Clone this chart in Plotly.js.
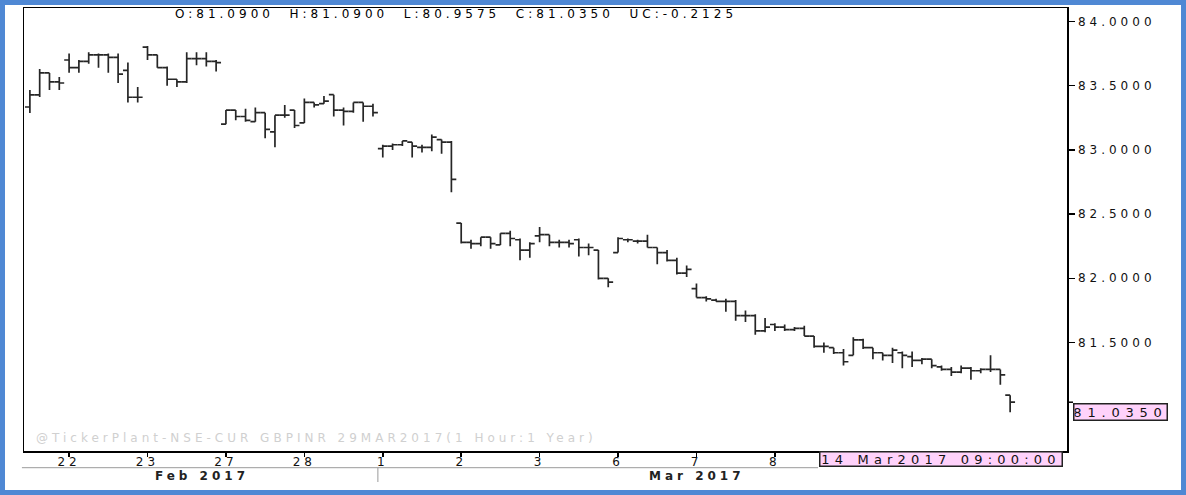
<!DOCTYPE html>
<html>
<head>
<meta charset="utf-8">
<script src="https://cdn.plot.ly/plotly-3.0.1.min.js"></script>
<style>
  html, body { margin: 0; padding: 0; background: #fff; overflow: hidden; }
  #chart { position: absolute; left: 0; top: 0; width: 1186px; height: 495px; }
  #frame { position: absolute; left: 0; top: 0; width: 1186px; height: 495px; box-sizing: border-box;
           border: 5px solid #4f88d4; pointer-events: none; }
  text { letter-spacing: 4px; }
  .annotation[data-index="4"] text { letter-spacing: 5.2px; }
  .annotation[data-index="5"] text { letter-spacing: 5.8px; }
</style>
</head>
<body>
<div id="chart"></div>
<div id="frame"></div>
<script>
// Trading sessions (hourly bars)
const sessionDays = ['2017-02-21','2017-02-22','2017-02-23','2017-02-27','2017-02-28','2017-03-01','2017-03-02',
                     '2017-03-03','2017-03-06','2017-03-07','2017-03-08','2017-03-09','2017-03-10','2017-03-14'];
const fullHours = ['09:00','10:00','11:00','12:00','13:00','14:00','15:00','16:00'];
const firstDayHours = ['13:00','14:00','15:00','16:00'];
const lastDayHours = ['09:00'];

const openP = [
  83.334, 83.428, 83.599, 83.529,
  83.70, 83.64, 83.69, 83.74, 83.74, 83.72, 83.62, 83.41,
  83.80, 83.74, 83.64, 83.55, 83.53, 83.71, 83.71, 83.69,
  83.20, 83.31, 83.26, 83.22, 83.29, 83.14, 83.27, 83.31,
  83.21, 83.37, 83.36, 83.43, 83.31, 83.30, 83.37, 83.34,
  83.01, 83.03, 83.04, 83.06, 83.02, 83.02, 83.08, 83.06,
  82.43, 82.28, 82.27, 82.32, 82.26, 82.35, 82.30, 82.22,
  82.33, 82.34, 82.28, 82.28, 82.30, 82.24, 82.22, 82.00,
  82.20, 82.30, 82.29, 82.29, 82.24, 82.20, 82.14, 82.04,
  81.92, 81.85, 81.83, 81.82, 81.82, 81.71, 81.71, 81.59,
  81.64, 81.62, 81.60, 81.61, 81.55, 81.47, 81.46, 81.42,
  81.40, 81.52, 81.46, 81.42, 81.40, 81.42, 81.39, 81.36,
  81.37, 81.31, 81.29, 81.27, 81.30, 81.28, 81.29, 81.29,
  81.09
];
const highP = [
  83.467, 83.630, 83.599, 83.568,
  83.75, 83.70, 83.76, 83.75, 83.75, 83.75, 83.68, 83.49,
  83.81, 83.74, 83.65, 83.55, 83.76, 83.76, 83.76, 83.70,
  83.31, 83.31, 83.32, 83.33, 83.29, 83.27, 83.35, 83.31,
  83.40, 83.37, 83.42, 83.43, 83.33, 83.37, 83.37, 83.36,
  83.04, 83.05, 83.07, 83.06, 83.04, 83.12, 83.08, 83.07,
  82.43, 82.30, 82.32, 82.32, 82.35, 82.37, 82.31, 82.28,
  82.40, 82.34, 82.30, 82.30, 82.31, 82.27, 82.22, 82.00,
  82.32, 82.31, 82.30, 82.34, 82.24, 82.22, 82.16, 82.10,
  81.96, 81.86, 81.84, 81.84, 81.83, 81.75, 81.72, 81.69,
  81.65, 81.64, 81.62, 81.63, 81.55, 81.50, 81.46, 81.45,
  81.54, 81.53, 81.46, 81.42, 81.46, 81.43, 81.43, 81.38,
  81.37, 81.32, 81.31, 81.32, 81.31, 81.30, 81.40, 81.29,
  81.09
];
const lowP = [
  83.287, 83.412, 83.467, 83.467,
  83.60, 83.60, 83.67, 83.64, 83.60, 83.52, 83.37, 83.37,
  83.70, 83.64, 83.50, 83.49, 83.52, 83.66, 83.65, 83.61,
  83.20, 83.23, 83.22, 83.22, 83.09, 83.02, 83.25, 83.17,
  83.21, 83.33, 83.36, 83.26, 83.19, 83.29, 83.22, 83.26,
  82.94, 83.00, 83.03, 82.94, 82.98, 82.99, 82.97, 82.67,
  82.27, 82.23, 82.25, 82.23, 82.26, 82.25, 82.14, 82.16,
  82.28, 82.25, 82.24, 82.24, 82.17, 82.18, 81.99, 81.93,
  82.20, 82.28, 82.27, 82.24, 82.11, 82.13, 82.03, 82.01,
  81.85, 81.82, 81.82, 81.74, 81.67, 81.66, 81.56, 81.58,
  81.59, 81.59, 81.59, 81.55, 81.46, 81.42, 81.41, 81.32,
  81.40, 81.45, 81.37, 81.36, 81.34, 81.30, 81.31, 81.33,
  81.30, 81.28, 81.24, 81.26, 81.21, 81.26, 81.27, 81.17,
  80.9575
];
const closeP = [
  83.428, 83.599, 83.529, 83.521,
  83.64, 83.69, 83.74, 83.74, 83.72, 83.59, 83.41, 83.41,
  83.74, 83.64, 83.55, 83.53, 83.71, 83.71, 83.69, 83.68,
  83.31, 83.26, 83.23, 83.29, 83.16, 83.27, 83.27, 83.19,
  83.37, 83.35, 83.38, 83.31, 83.30, 83.37, 83.34, 83.29,
  83.03, 83.04, 83.07, 83.03, 83.02, 83.10, 83.06, 82.77,
  82.28, 82.27, 82.32, 82.27, 82.35, 82.31, 82.22, 82.27,
  82.34, 82.28, 82.28, 82.27, 82.24, 82.24, 82.00, 81.97,
  82.31, 82.30, 82.29, 82.24, 82.20, 82.14, 82.04, 82.07,
  81.85, 81.84, 81.82, 81.82, 81.71, 81.71, 81.59, 81.62,
  81.62, 81.60, 81.61, 81.55, 81.47, 81.47, 81.42, 81.35,
  81.52, 81.46, 81.42, 81.40, 81.44, 81.40, 81.36, 81.37,
  81.32, 81.29, 81.27, 81.30, 81.28, 81.29, 81.29, 81.2475,
  81.035
];

// x tick labels (first bar of each day)
const tickDays = ['2017-02-22','2017-02-23','2017-02-27','2017-02-28','2017-03-01','2017-03-02','2017-03-03',
                  '2017-03-06','2017-03-07','2017-03-08'];
const tickLabels = ['22','23','27','28','1','2','3','6','7','8'];
const monthLabels = ['Feb 2017','Mar 2017'];
const lastBarLabel = '14 Mar2017 09:00:00';
const watermark = '@TickerPlant-NSE-CUR GBPINR 29MAR2017(1 Hour:1 Year)';
const yTicks = [81.5, 82.0, 82.5, 83.0, 83.5, 84.0];

// Build category labels
const times = [];
sessionDays.forEach((d, i) => {
  const hrs = i === 0 ? firstDayHours : (i === sessionDays.length - 1 ? lastDayHours : fullHours);
  hrs.forEach(h => times.push(d + ' ' + h));
});
const tickvals = tickDays.map(d => d + ' 09:00');

const n = closeP.length;
const lastO = openP[n-1], lastH = highP[n-1], lastL = lowP[n-1], lastC = closeP[n-1];
const uc = lastC - closeP[n-2];
const sp = '\u00a0\u00a0';
const header = 'O:' + lastO.toFixed(4) + sp + 'H:' + lastH.toFixed(4) + sp + 'L:' + lastL.toFixed(4) + sp +
               'C:' + lastC.toFixed(4) + sp + 'UC:' + uc.toFixed(4);

const barColor = '#262626';
const trace = {
  type: 'ohlc',
  x: times, open: openP, high: highP, low: lowP, close: closeP,
  increasing: { line: { color: barColor, width: 1.7 } },
  decreasing: { line: { color: barColor, width: 1.7 } },
  tickwidth: 0.5,
  hoverinfo: 'skip'
};

const F = 'DejaVu Sans';
const plotH = 443, plotW = 1043;
const layout = {
  width: 1186, height: 495,
  margin: { l: 24, r: 119, t: 8, b: 44, pad: 0 },
  paper_bgcolor: '#ffffff', plot_bgcolor: '#ffffff',
  showlegend: false,
  font: { family: F, size: 12, color: '#111' },
  xaxis: {
    type: 'category', range: [-0.6, 105.8],
    rangeslider: { visible: false },
    tickmode: 'array', tickvals: tickvals, ticktext: tickLabels,
    ticks: 'outside', ticklen: 4, tickwidth: 1.5, tickcolor: '#000',
    showline: true, linecolor: '#000', linewidth: 1.5, mirror: true,
    showgrid: false, zeroline: false,
    tickfont: { family: F, size: 12, color: '#111' },
    ticklabelstandoff: -5,
    fixedrange: true
  },
  yaxis: {
    side: 'right', range: [80.655, 84.105],
    tickmode: 'array', tickvals: yTicks, tickformat: '.4f',
    ticks: 'outside', ticklen: 6, tickwidth: 1.5, tickcolor: '#000',
    showline: true, linecolor: '#000', linewidth: 1.5, mirror: true,
    showgrid: false, zeroline: false,
    tickfont: { family: F, size: 12, color: '#111' },
    ticklabelstandoff: 1,
    fixedrange: true
  },
  shapes: [
    // month band separator line
    { type: 'line', xref: 'paper', yref: 'paper', x0: -0.002, x1: 0.7613, y0: -16.7/plotH, y1: -16.7/plotH,
      line: { color: '#9a9a9a', width: 1 } },
    // month divider
    { type: 'line', xref: 'x', yref: 'paper', x0: 35.5, x1: 35.5, y0: -16.7/plotH, y1: -31/plotH,
      line: { color: '#9a9a9a', width: 1 } },
    // last price marker tick
    { type: 'line', xref: 'paper', yref: 'y', x0: 1, x1: 1 + 6/plotW, y0: lastC, y1: lastC,
      line: { color: '#000', width: 1.5 } }
  ],
  annotations: [
    { text: header, xref: 'paper', yref: 'paper', x: 0.414, y: 1 - 6/plotH, xanchor: 'center', yanchor: 'middle',
      showarrow: false, font: { family: F, size: 12, color: '#000' } },
    { text: watermark, xref: 'paper', yref: 'paper', x: 10/plotW, y: 13/plotH, xanchor: 'left', yanchor: 'middle',
      showarrow: false, font: { family: F, size: 12, color: '#d0d0d0' } },
    { text: '<b>' + monthLabels[0] + '</b>', xref: 'paper', yref: 'paper', x: 178/plotW, y: -25/plotH,
      xanchor: 'center', yanchor: 'middle', showarrow: false, font: { family: F, size: 12, color: '#222' } },
    { text: '<b>' + monthLabels[1] + '</b>', xref: 'paper', yref: 'paper', x: 673/plotW, y: -25/plotH,
      xanchor: 'center', yanchor: 'middle', showarrow: false, font: { family: F, size: 12, color: '#222' } },
    { text: lastBarLabel, xref: 'paper', yref: 'paper', x: (1063-24)/plotW, y: 0, xanchor: 'right', yanchor: 'top',
      showarrow: false, bgcolor: '#ffd2fb', bordercolor: '#222', borderwidth: 1.5, borderpad: 0,
      width: 241, height: 13, align: 'center', font: { family: F, size: 13, color: '#111' } },
    { text: lastC.toFixed(4), xref: 'paper', yref: 'y', x: 1 + 6/plotW, y: lastC, yshift: -1,
      xanchor: 'left', yanchor: 'top',
      showarrow: false, bgcolor: '#ffd2fb', bordercolor: '#222', borderwidth: 1.5, borderpad: 0,
      width: 92, height: 15, align: 'center', font: { family: F, size: 13, color: '#111' } }
  ]
};

Plotly.newPlot('chart', [trace], layout, { staticPlot: true, displayModeBar: false });
</script>
</body>
</html>
